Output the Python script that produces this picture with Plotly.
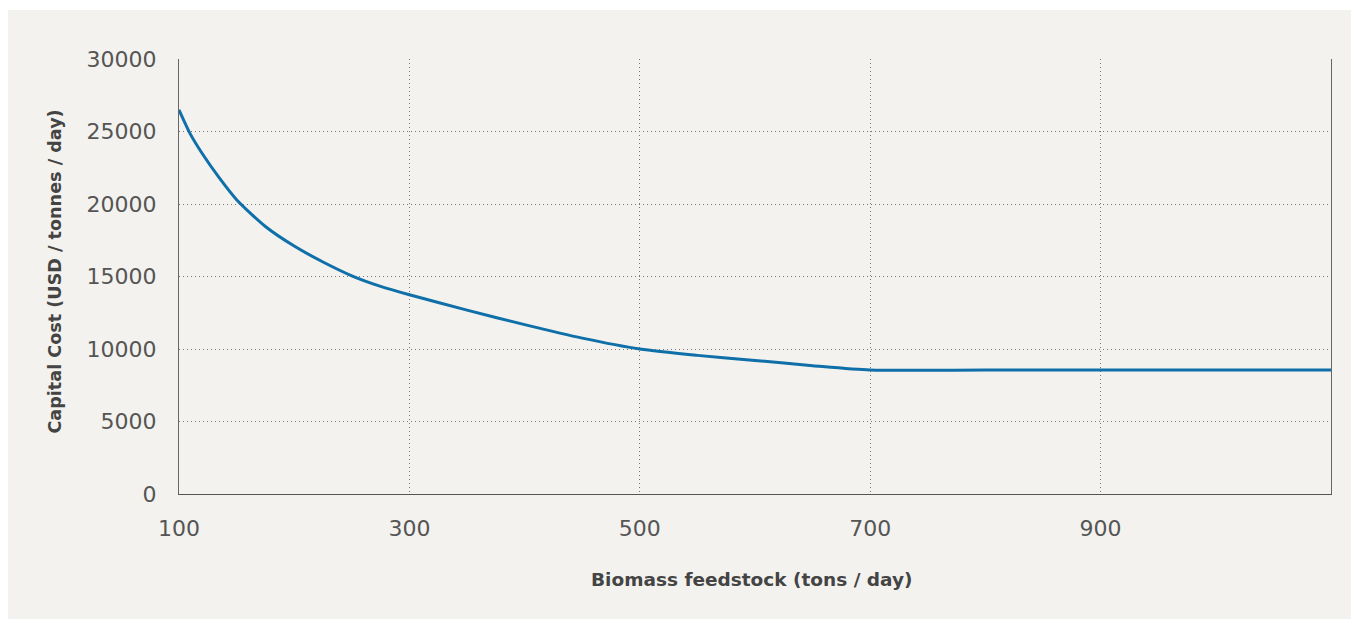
import plotly.graph_objects as go

# Data
feedstock = [100, 110, 120, 135, 150, 175, 200, 225, 250, 275, 300, 350, 400, 450, 500, 550, 600, 650, 700,
             800, 900, 1000, 1100]
capital_cost = [26500, 24800, 23500, 21800, 20300, 18450, 17100, 16000, 15050, 14320, 13740, 12680, 11680,
                10750, 10000, 9560, 9210, 8850, 8550, 8550, 8550, 8550, 8550]
x_ticks = [100, 300, 500, 700, 900]
y_ticks = [0, 5000, 10000, 15000, 20000, 25000, 30000]

BG = "#f3f2ee"
TICK_FONT = "DejaVu Sans"
TITLE_FONT = "DejaVu Sans"

fig = go.Figure()
fig.add_trace(go.Scatter(x=feedstock, y=capital_cost, mode="lines",
                         line=dict(color="#0f6fa9", width=3, shape="spline", smoothing=0.7),
                         showlegend=False, hoverinfo="x+y"))

fig.update_layout(
    width=1351, height=611,
    margin=dict(l=171, r=28, t=51, b=125),
    paper_bgcolor="white",
    plot_bgcolor="rgba(0,0,0,0)",
    font=dict(family=TICK_FONT, color="#555555"),
    shapes=[dict(type="rect", xref="paper", yref="paper", x0=-0.1484, x1=1.05, y0=-0.35, y1=1.1126,
                 fillcolor=BG, line=dict(width=0), layer="below")],
    annotations=[
        dict(text="<b>Biomass feedstock (tons / day)</b>", xref="paper", yref="paper",
             x=0.4975, y=-0.1977, xanchor="center", yanchor="middle", showarrow=False,
             font=dict(family=TITLE_FONT, size=18.5, color="#444444")),
        dict(text="<b>Capital Cost (USD / tonnes / day)</b>", xref="paper", yref="paper",
             x=-0.1076, y=0.5115, xanchor="center", yanchor="middle", showarrow=False, textangle=-90,
             font=dict(family=TITLE_FONT, size=17.6, color="#444444")),
    ],
)

fig.update_xaxes(range=[100, 1100], tickvals=x_ticks, ticktext=[str(v) for v in x_ticks],
                 showgrid=True, gridcolor="#777777", gridwidth=1, griddash="1px,3px",
                 showline=True, linecolor="#555555", linewidth=1.2, zeroline=False,
                 ticks="", ticklabelstandoff=14,
                 tickfont=dict(family=TICK_FONT, size=22, color="#555555"))
fig.update_yaxes(range=[0, 30000], tickvals=y_ticks, ticktext=[str(v) for v in y_ticks],
                 showgrid=True, gridcolor="#777777", gridwidth=1, griddash="1px,3px",
                 showline=True, linecolor="#666666", linewidth=1.4, mirror=True, zeroline=False,
                 ticks="", ticklabelstandoff=17,
                 tickfont=dict(family=TICK_FONT, size=22, color="#555555"))

fig.write_html("out.html")
